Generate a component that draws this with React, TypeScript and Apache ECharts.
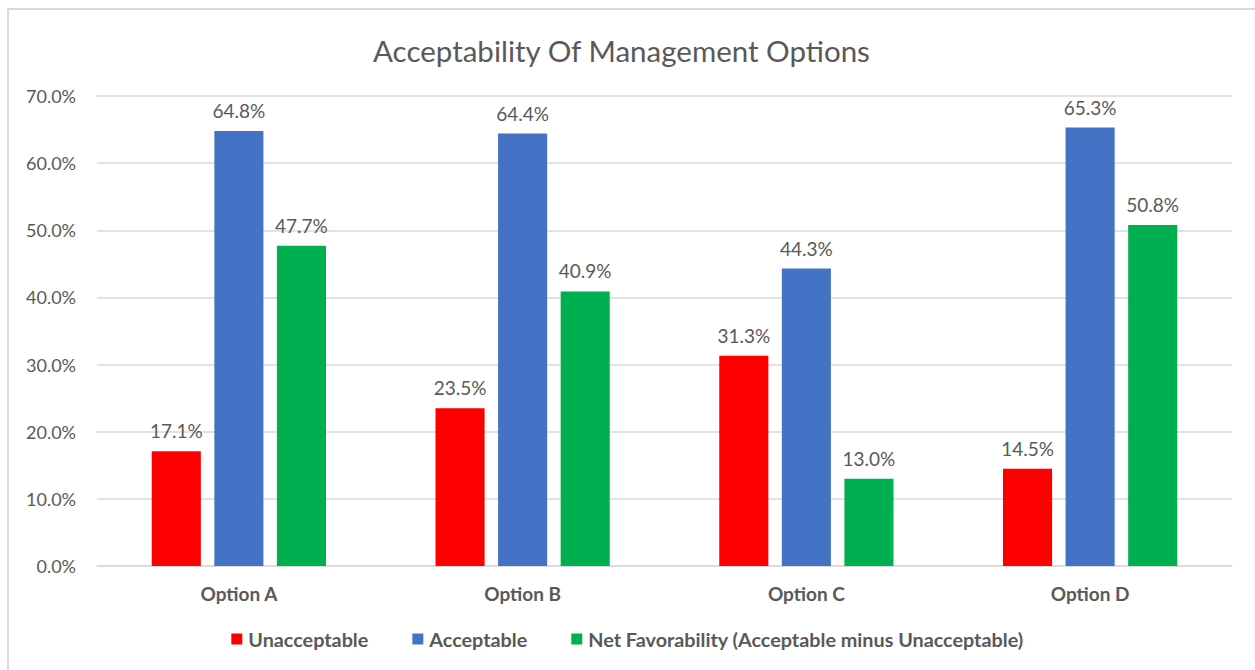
import React, { useEffect, useRef } from "react";
import * as echarts from "echarts";

const categories = ["Option A", "Option B", "Option C", "Option D"];
const unacceptable = [17.1, 23.5, 31.3, 14.5];
const acceptable = [64.8, 64.4, 44.3, 65.3];
const netFavorability = [47.7, 40.9, 13.0, 50.8];
const seriesNames = ["Unacceptable", "Acceptable", "Net Favorability (Acceptable minus Unacceptable)"];
const colors = ["#FF0000", "#4472C4", "#00B050"];
const FONT = "Lato, 'Liberation Sans', sans-serif";
const TXT = "#595959";

export default function App() {
  const ref = useRef<HTMLDivElement>(null);
  useEffect(() => {
    if (!ref.current) return;
    const chart = echarts.init(ref.current, undefined, { renderer: "svg" });
    const label = {
      show: true,
      position: "top" as const,
      distance: 11,
      color: TXT,
      fontSize: 19,
      fontFamily: FONT,
      formatter: (p: any) => Number(p.value).toFixed(1) + "%",
    };
    const data = [unacceptable, acceptable, netFavorability];
    chart.setOption({
      animation: false,
      backgroundColor: "#ffffff",
      textStyle: { fontFamily: FONT },
      title: {
        text: "Acceptability Of Management Options",
        left: 368,
        top: 30,
        textStyle: { color: TXT, fontSize: 29.5, fontWeight: "normal", fontFamily: FONT },
      },
      graphic: [
        {
          type: "rect",
          silent: true,
          shape: { x: 8, y: 9, width: 1300, height: 700 },
          style: { fill: "none", stroke: "#d9d9d9", lineWidth: 2 },
        },
      ],
      legend: {
        bottom: 16,
        left: "center",
        itemWidth: 11,
        itemHeight: 11,
        itemGap: 44,
        icon: "rect",
        textStyle: { color: TXT, fontSize: 19.8, fontWeight: "bold", fontFamily: FONT, padding: [0, 0, 0, 1] },
        data: seriesNames,
      },
      grid: { left: 97, right: 23, top: 96, bottom: 104, containLabel: false },
      xAxis: {
        type: "category",
        data: categories,
        axisLine: { show: true, lineStyle: { color: "#d9d9d9", width: 1.5 } },
        axisTick: { show: false },
        axisLabel: { color: TXT, fontSize: 19, fontWeight: "bold", fontFamily: FONT, margin: 18 },
      },
      yAxis: {
        type: "value",
        min: 0,
        max: 70,
        interval: 10,
        axisLine: { show: false },
        axisTick: { show: false },
        axisLabel: {
          color: TXT,
          fontSize: 18,
          fontFamily: FONT,
          margin: 21,
          formatter: (v: number) => v.toFixed(1) + "%",
        },
        splitLine: { lineStyle: { color: "#d9d9d9", width: 1.5 } },
      },
      series: seriesNames.map((name, i) => ({
        name,
        type: "bar",
        data: data[i],
        barWidth: "17.3%",
        barGap: "27.5%",
        itemStyle: { color: colors[i] },
        label,
      })),
    });
    return () => chart.dispose();
  }, []);
  return (
    <div style={{ position: "absolute", left: 0, top: 0, width: 1255, height: 670, background: "#fff" }}>
      <div ref={ref} style={{ width: 1255, height: 670 }} />
    </div>
  );
}
